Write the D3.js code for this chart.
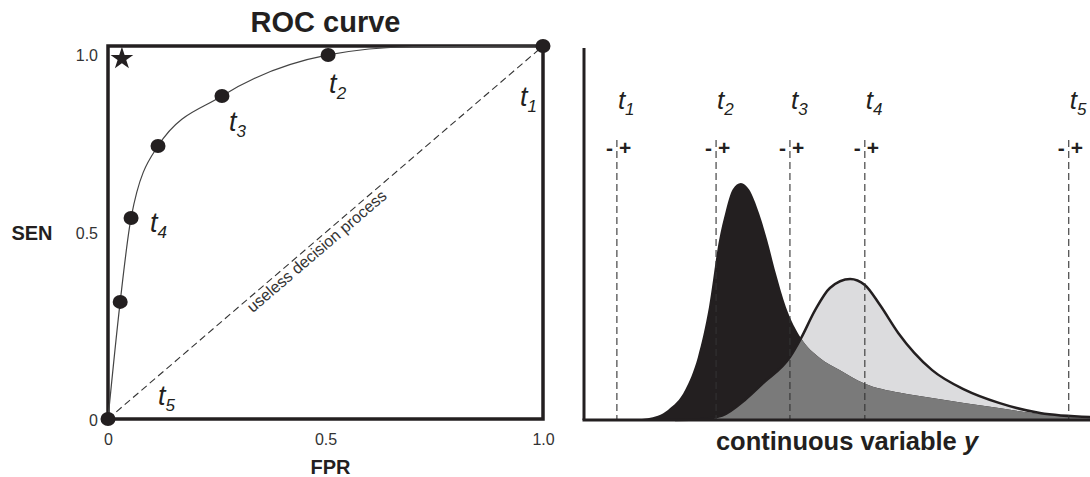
<!DOCTYPE html>
<html>
<head>
<meta charset="utf-8">
<script src="https://cdn.jsdelivr.net/npm/d3@7"></script>
<style>
  body { margin: 0; background: #fff; }
  svg { display: block; font-family: Arial, "Liberation Sans", sans-serif; }
</style>
</head>
<body>
<div id="chart"></div>
<script>
// ROC curve (left panel)
const rocCurveFpr = [0, 0.028, 0.053, 0.115, 0.262, 0.506, 0.70, 1.0];
const rocCurveSen = [0, 0.314, 0.539, 0.732, 0.866, 0.976, 0.998, 1.0];
const rocDotFpr = [1.0, 0.506, 0.262, 0.115, 0.053, 0.028, 0];
const rocDotSen = [1.0, 0.976, 0.866, 0.732, 0.539, 0.314, 0];
const rocDotLabel = ['1', '2', '3', '', '4', '', '5'];
const rocTicks = [0, 0.5, 1.0];
const rocTickLabels = ['0', '0.5', '1.0'];

// distributions on continuous variable y (right panel)
const negY = [8, 12.6, 16.6, 20.0, 22.5, 24.7, 26.7, 27.9, 29.4, 31.0, 32.6, 34.6, 36.2, 37.9, 39.9, 42.9, 46.6, 50.6, 55.3, 62.5, 68.8, 82.0, 92.1, 100];
const negDensity = [0, 0.005, 0.027, 0.081, 0.169, 0.304, 0.484, 0.556, 0.62, 0.637, 0.62, 0.556, 0.484, 0.395, 0.304, 0.220, 0.167, 0.134, 0.099, 0.073, 0.059, 0.032, 0.013, 0.005];
const posY = [18, 22.9, 27.3, 31.8, 35.4, 40.7, 42.9, 45.7, 48.6, 52.6, 55.5, 58.5, 62.1, 68.8, 75.3, 82.0, 90.1, 100];
const posDensity = [0, 0.002, 0.012, 0.054, 0.099, 0.169, 0.220, 0.296, 0.355, 0.379, 0.363, 0.309, 0.234, 0.134, 0.081, 0.046, 0.019, 0.008];
const thresholds = [6.5, 26.1, 40.7, 55.5, 95.8];
const thresholdLabels = ['1', '2', '3', '4', '5'];

const width = 1090, height = 477;
const ink = '#231f20';

const svg = d3.select('#chart').append('svg')
  .attr('width', width)
  .attr('height', height);

// ---------- left: ROC ----------
const xRoc = d3.scaleLinear().domain([0, 1]).range([108, 543]);
const yRoc = d3.scaleLinear().domain([0, 1]).range([419, 46]);

const roc = svg.append('g').attr('class', 'roc');

roc.append('text')
  .attr('x', (xRoc(0) + xRoc(1)) / 2)
  .attr('y', 32)
  .attr('text-anchor', 'middle')
  .attr('font-size', 29)
  .attr('font-weight', 'bold')
  .attr('fill', ink)
  .text('ROC curve');

// diagonal: useless decision process
roc.append('line')
  .attr('x1', xRoc(0)).attr('y1', yRoc(0))
  .attr('x2', xRoc(1)).attr('y2', yRoc(1))
  .attr('stroke', '#333')
  .attr('stroke-width', 1.1)
  .attr('stroke-dasharray', '7,4');

const diagAngle = Math.atan2(yRoc(1) - yRoc(0), xRoc(1) - xRoc(0)) * 180 / Math.PI;
roc.append('text')
  .attr('transform', 'translate(' + xRoc(0.467) + ',' + yRoc(0.467) + ') rotate(' + diagAngle + ')')
  .attr('dy', 14)
  .attr('text-anchor', 'middle')
  .attr('font-size', 16)
  .attr('fill', '#333')
  .text('useless decision process');

// box frame
roc.append('rect')
  .attr('x', xRoc(0)).attr('y', yRoc(1))
  .attr('width', xRoc(1) - xRoc(0))
  .attr('height', yRoc(0) - yRoc(1))
  .attr('fill', 'none')
  .attr('stroke', ink)
  .attr('stroke-width', 3.5);

// ROC curve
const rocLine = d3.line()
  .x(function (d, i) { return xRoc(rocCurveFpr[i]); })
  .y(function (d, i) { return yRoc(rocCurveSen[i]); })
  .curve(d3.curveMonotoneX);

roc.append('path')
  .attr('d', rocLine(rocCurveFpr))
  .attr('fill', 'none')
  .attr('stroke', '#444')
  .attr('stroke-width', 1.2);

roc.selectAll('.dot').data(rocDotFpr).enter().append('ellipse')
  .attr('class', 'dot')
  .attr('cx', function (d) { return xRoc(d); })
  .attr('cy', function (d, i) { return yRoc(rocDotSen[i]); })
  .attr('rx', 7.5)
  .attr('ry', 7)
  .attr('fill', ink);

// label offsets (px) from each dot
const rocLabelOffset = [[-23, 60], [1, 38], [7, 35], null, [19, 14], null, [50, -14]];
rocDotLabel.forEach(function (lab, i) {
  if (!lab) return;
  const t = roc.append('text')
    .attr('x', xRoc(rocDotFpr[i]) + rocLabelOffset[i][0])
    .attr('y', yRoc(rocDotSen[i]) + rocLabelOffset[i][1])
    .attr('font-size', 27)
    .attr('font-style', 'italic')
    .attr('fill', ink);
  t.append('tspan').text('t');
  t.append('tspan').attr('font-size', 17).attr('dy', 6).text(lab);
});

// ideal point star
const star = d3.symbol().type(d3.symbolStar).size(160);
roc.append('path')
  .attr('d', star())
  .attr('transform', 'translate(' + xRoc(0.032) + ',' + yRoc(0.966) + ')')
  .attr('fill', ink);

// axes (tick labels only)
const xAxisRoc = d3.axisBottom(xRoc).tickValues(rocTicks)
  .tickFormat(function (d, i) { return rocTickLabels[i]; })
  .tickSize(0).tickPadding(0);
const gx = roc.append('g')
  .attr('transform', 'translate(0,' + 445 + ')')
  .call(xAxisRoc);
gx.select('.domain').remove();
gx.selectAll('text')
  .attr('dy', 0)
  .attr('font-size', 16)
  .attr('font-family', 'Arial, "Liberation Sans", sans-serif')
  .attr('fill', '#333');

const yAxisRoc = d3.axisLeft(yRoc).tickValues(rocTicks)
  .tickFormat(function (d, i) { return rocTickLabels[i]; })
  .tickSize(0).tickPadding(0);
const gy = roc.append('g')
  .attr('transform', 'translate(' + 98 + ',0)')
  .call(yAxisRoc);
gy.select('.domain').remove();
gy.selectAll('text')
  .attr('dy', function (d) { return d === 1 ? '0.9em' : '0.4em'; })
  .attr('font-size', 16)
  .attr('font-family', 'Arial, "Liberation Sans", sans-serif')
  .attr('fill', '#333');

roc.append('text')
  .attr('x', (xRoc(0) + xRoc(1)) / 2 + 5)
  .attr('y', 474)
  .attr('text-anchor', 'middle')
  .attr('font-size', 20)
  .attr('font-weight', 'bold')
  .attr('fill', ink)
  .text('FPR');

roc.append('text')
  .attr('x', 32)
  .attr('y', yRoc(0.5) + 7)
  .attr('text-anchor', 'middle')
  .attr('font-size', 20)
  .attr('font-weight', 'bold')
  .attr('fill', ink)
  .text('SEN');

// ---------- right: distributions ----------
const xDist = d3.scaleLinear().domain([0, 100]).range([584, 1090]);
const yDist = d3.scaleLinear().domain([0, 1]).range([420, 48]);

const dist = svg.append('g').attr('class', 'dist');

const negArea = d3.area()
  .x(function (d, i) { return xDist(negY[i]); })
  .y0(yDist(0))
  .y1(function (d) { return yDist(d); })
  .curve(d3.curveMonotoneX);
const posArea = d3.area()
  .x(function (d, i) { return xDist(posY[i]); })
  .y0(yDist(0))
  .y1(function (d) { return yDist(d); })
  .curve(d3.curveMonotoneX);
const posLine = d3.line()
  .x(function (d, i) { return xDist(posY[i]); })
  .y(function (d) { return yDist(d); })
  .curve(d3.curveMonotoneX);

dist.append('clipPath').attr('id', 'negClip')
  .append('path').attr('d', negArea(negDensity));

dist.append('path').attr('d', posArea(posDensity)).attr('fill', '#dcdcde');
dist.append('path').attr('d', negArea(negDensity)).attr('fill', ink);
dist.append('path').attr('d', posArea(posDensity))
  .attr('fill', '#7a7a7a')
  .attr('clip-path', 'url(#negClip)');
dist.append('path').attr('d', posLine(posDensity))
  .attr('fill', 'none')
  .attr('stroke', ink)
  .attr('stroke-width', 2.5);

// threshold lines
dist.selectAll('.thr').data(thresholds).enter().append('line')
  .attr('class', 'thr')
  .attr('x1', function (d) { return xDist(d); })
  .attr('x2', function (d) { return xDist(d); })
  .attr('y1', 140)
  .attr('y2', yDist(0))
  .attr('stroke', '#333')
  .attr('stroke-width', 1.1)
  .attr('stroke-dasharray', '7,4');

thresholds.forEach(function (d, i) {
  const x = xDist(d);
  const labX = x + 14 > width ? x - 18 : x + 1;
  const t = dist.append('text')
    .attr('x', labX)
    .attr('y', 109)
    .attr('font-size', 26)
    .attr('font-style', 'italic')
    .attr('fill', ink);
  t.append('tspan').text('t');
  t.append('tspan').attr('font-size', 17).attr('dy', 6).text(thresholdLabels[i]);

  dist.append('text')
    .attr('x', x - 4).attr('y', 155)
    .attr('text-anchor', 'end')
    .attr('font-size', 21)
    .attr('font-weight', 'bold')
    .attr('fill', ink)
    .text('-');
  dist.append('text')
    .attr('x', x + 2).attr('y', 155)
    .attr('font-size', 21)
    .attr('font-weight', 'bold')
    .attr('fill', ink)
    .text('+');
});

// axes lines
dist.append('line')
  .attr('x1', xDist(0)).attr('x2', xDist(0))
  .attr('y1', yDist(1)).attr('y2', yDist(0))
  .attr('stroke', ink).attr('stroke-width', 3);
dist.append('line')
  .attr('x1', xDist(0) - 1.5).attr('x2', xDist(100))
  .attr('y1', yDist(0)).attr('y2', yDist(0))
  .attr('stroke', ink).attr('stroke-width', 3);

const xl = dist.append('text')
  .attr('x', 847)
  .attr('y', 450)
  .attr('text-anchor', 'middle')
  .attr('font-size', 25.5)
  .attr('font-weight', 'bold')
  .attr('fill', ink);
xl.append('tspan').text('continuous variable ');
xl.append('tspan').attr('font-style', 'italic').text('y');
</script>
</body>
</html>
